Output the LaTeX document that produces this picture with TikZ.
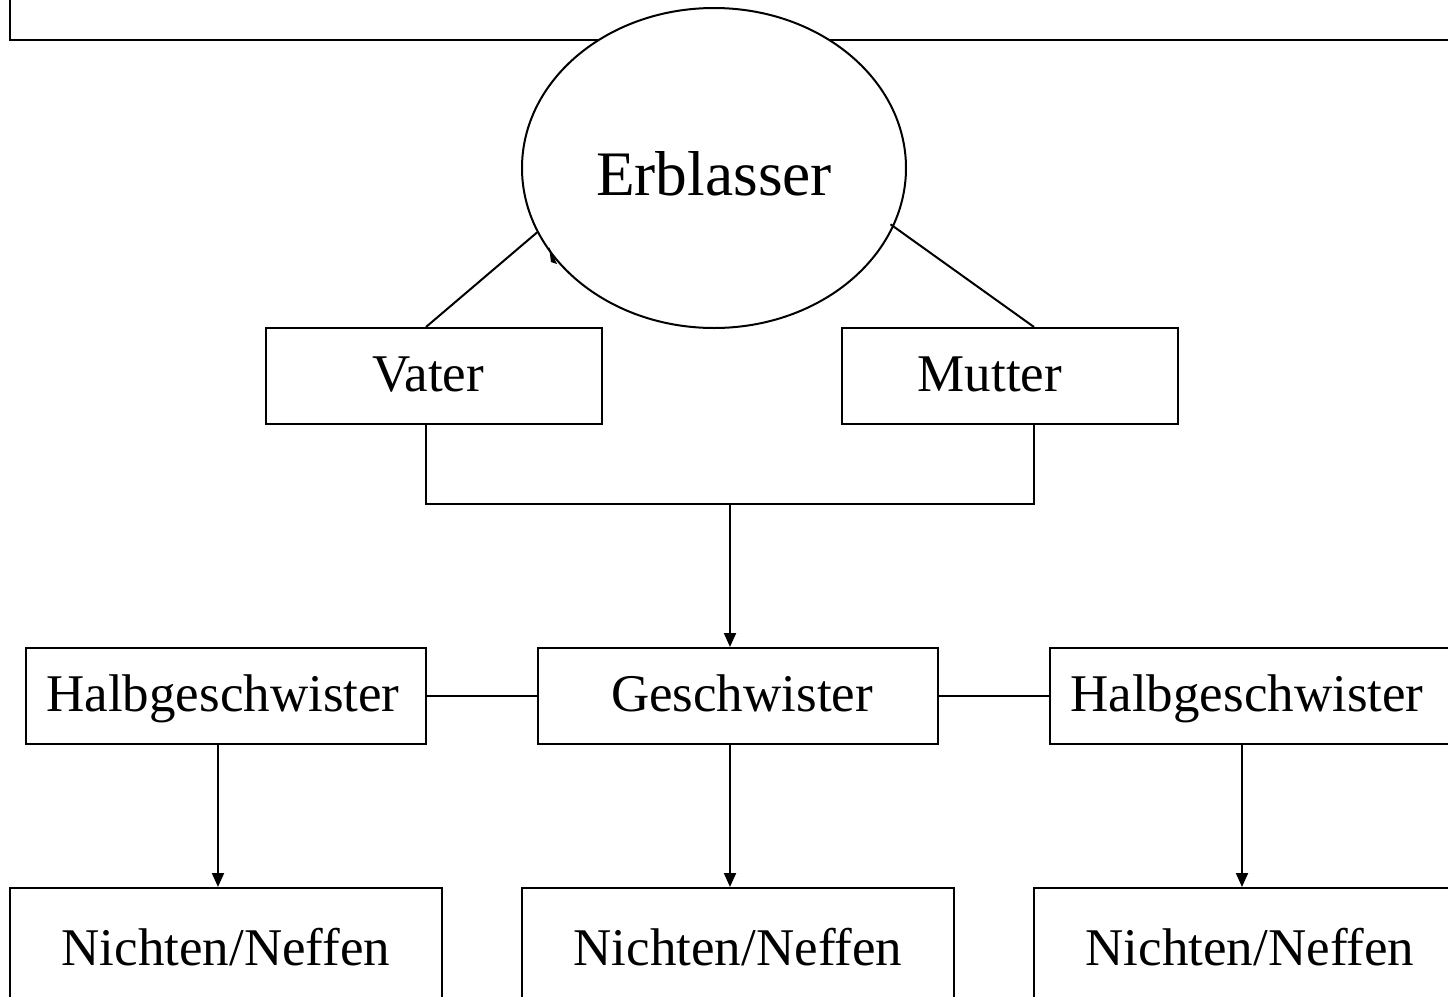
\documentclass[tikz,border=0pt]{standalone}
\usepackage{fontspec}
\setmainfont{Liberation Serif}
\usetikzlibrary{arrows.meta,shapes.geometric}
\begin{document}
\begin{tikzpicture}[x=0.5pt,y=-0.5pt,line width=1pt,
    every node/.style={inner sep=0pt, font=\fontsize{26.5pt}{30pt}\selectfont,
                       text height=20pt, text depth=5pt},
    box/.style={draw, fill=white, minimum width=168pt, minimum height=48pt},
    widebox/.style={box, minimum width=200pt},
    leafbox/.style={box, minimum width=216pt, minimum height=60pt, text height=21pt, text depth=4pt},
    pfeil/.style={-{Triangle[length=7pt,width=6pt]}}]
    \useasboundingbox (0,0) rectangle (1448,997);
    \clip (0,0) rectangle (1448,997);
    % Rahmen oben
    \draw (10,-20) rectangle (1470,40);
    \node[draw, fill=white, ellipse, minimum width=192pt, minimum height=160pt,
          font=\fontsize{31.7pt}{36pt}\selectfont, text height=28pt, text depth=1pt]
          (erb) at (714,168) {Erblasser};
    \node[box] (vater) at (434,376) {Vater\hspace*{6pt}};
    \node[box] (mutter) at (1010,376) {Mutter\hspace*{20pt}};
    \node[widebox] (halbL) at (226,696) {Halbgeschwister\hspace*{3pt}};
    \node[widebox] (gesch) at (738,696) {\hspace*{4pt}Geschwister};
    \node[widebox] (halbR) at (1250,696) {Halbgeschwister\hspace*{3pt}};
    \node[leafbox] (neffL) at (226,948) {Nichten/Neffen};
    \node[leafbox] (neffM) at (738,948) {Nichten/Neffen};
    \node[leafbox] (neffR) at (1250,948) {Nichten/Neffen};
    % Eltern
    \draw ([xshift=-4pt]vater.north) -- (erb.200);
    \draw ([xshift=12pt]mutter.north) -- ([shift={(-3pt,-2pt)}]erb.344);
    \fill (549,247) -- (557,264) -- (551,262) -- cycle;
    \draw ([xshift=-4pt]vater.south) |- (730,504) coordinate (mitte) -| ([xshift=12pt]mutter.south);
    \draw[pfeil] (mitte) -- ([xshift=-4pt]gesch.north);
    % Geschwister
    \draw (halbL.east) -- (gesch.west);
    \draw (gesch.east) -- (halbR.west);
    \draw[pfeil] ([xshift=-4pt]halbL.south) -- ([xshift=-4pt]neffL.north);
    \draw[pfeil] ([xshift=-4pt]gesch.south) -- ([xshift=-4pt]neffM.north);
    \draw[pfeil] ([xshift=-4pt]halbR.south) -- ([xshift=-4pt]neffR.north);
\end{tikzpicture}
\end{document}
